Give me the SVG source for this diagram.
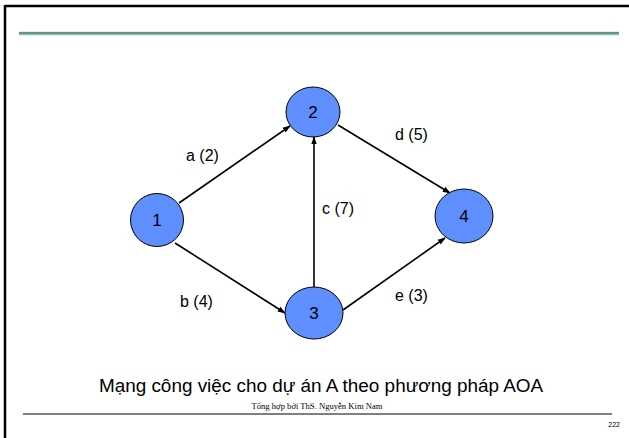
<svg xmlns="http://www.w3.org/2000/svg" width="629" height="438" viewBox="0 0 629 438">
<style>
.node ellipse{fill:#5f8eff;stroke:#000;stroke-width:1}
.node text{font-family:"Liberation Sans",Arial,sans-serif;font-size:17px;fill:#000;text-anchor:middle}
.lbl{font-family:"Liberation Sans",Arial,sans-serif;font-size:16px;fill:#000}
.edge{stroke:#000;stroke-width:1.6;fill:none;marker-end:url(#arr)}
</style>
<defs>
<marker id="arr" viewBox="0 0 10 10" refX="9" refY="5" markerWidth="5" markerHeight="5" orient="auto" markerUnits="strokeWidth">
<path d="M0,1.5 L10,5 L0,8.5 z" fill="#000"/>
</marker>
</defs>
<rect width="629" height="438" fill="#fff"/>
<g id="frame">
<line x1="5" y1="6" x2="629" y2="6" stroke="#000" stroke-width="2.5"/>
<line x1="5" y1="5" x2="5" y2="438" stroke="#000" stroke-width="2.5"/>
<line x1="19" y1="33.5" x2="619" y2="33.5" stroke="#8fc0a8" stroke-width="3.5"/>
<line x1="19" y1="33" x2="619" y2="33" stroke="#2f6e52" stroke-width="1.2"/>
<line x1="23" y1="414" x2="612" y2="414" stroke="#000" stroke-width="1"/>
</g>
<g id="connectors">
<line class="edge" x1="179" y1="203" x2="290" y2="126"/>
<line class="edge" x1="175" y1="243" x2="285" y2="313"/>
<line class="edge" x1="314" y1="287" x2="314" y2="137"/>
<line class="edge" x1="338" y1="125" x2="450" y2="193"/>
<line class="edge" x1="343" y1="310" x2="445" y2="238"/>
<text class="lbl" x="186" y="161">a (2)</text>
<text class="lbl" x="180" y="307">b (4)</text>
<text class="lbl" x="322" y="214">c (7)</text>
<text class="lbl" x="395" y="140">d (5)</text>
<text class="lbl" x="395" y="301">e (3)</text>
</g>
<g id="n1" class="node"><ellipse cx="157" cy="220" rx="26.5" ry="26.5"/><text x="157" y="226">1</text></g>
<g id="n2" class="node"><ellipse cx="313" cy="112" rx="27" ry="25"/><text x="313" y="118">2</text></g>
<g id="n3" class="node"><ellipse cx="314" cy="313" rx="29" ry="26"/><text x="314" y="319">3</text></g>
<g id="n4" class="node"><ellipse cx="464" cy="216" rx="29" ry="27"/><text x="464" y="222">4</text></g>
<g id="caption">
<text x="321" y="392" font-family="'Liberation Sans',Arial,sans-serif" font-size="18.9" text-anchor="middle">Mạng công việc cho dự án A theo phương pháp AOA</text>
<text x="317" y="409" font-family="'Liberation Serif','Times New Roman',serif" font-size="8.6" text-anchor="middle">Tổng hợp bởi ThS. Nguyễn Kim Nam</text>
<text x="620" y="427" font-family="'Liberation Sans',Arial,sans-serif" font-size="7" text-anchor="end">222</text>
</g>
</svg>
